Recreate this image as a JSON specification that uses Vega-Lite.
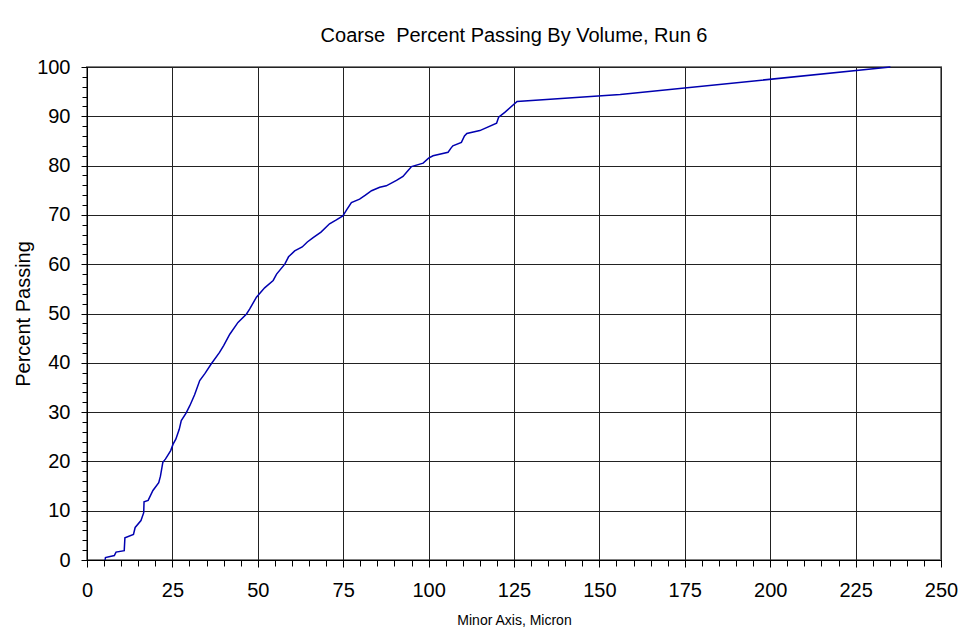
{
  "$schema": "https://vega.github.io/schema/vega-lite/v6.json",
  "width": 854,
  "height": 493,
  "autosize": {"type": "none"},
  "padding": {"left": 87, "top": 67, "right": 22, "bottom": 79},
  "background": "white",
  "title": {"text": "Coarse\u00a0 Percent Passing By Volume, Run 6", "font": "Liberation Sans", "fontSize": 20, "fontWeight": "normal", "color": "black", "offset": 11},
  "config": {
    "view": {"stroke": "#808080", "strokeWidth": 2},
    "axis": {"labelFont": "Liberation Sans", "titleFont": "Liberation Sans", "labelColor": "black", "titleColor": "black", "domainColor": "black", "tickColor": "black", "gridColor": "#222222", "gridOpacity": 1, "titleFontWeight": "normal"}
  },
  "data": {"values": [
    {"micron": 5.3, "pct": 0},
    {"micron": 5.4, "pct": 0.5},
    {"micron": 8.0, "pct": 0.9},
    {"micron": 8.5, "pct": 1.6},
    {"micron": 10.9, "pct": 1.9},
    {"micron": 11.1, "pct": 4.5},
    {"micron": 13.6, "pct": 5.2},
    {"micron": 14.1, "pct": 6.6},
    {"micron": 15.8, "pct": 8.0},
    {"micron": 16.6, "pct": 9.6},
    {"micron": 16.7, "pct": 11.8},
    {"micron": 17.9, "pct": 12.1},
    {"micron": 19.3, "pct": 14.1},
    {"micron": 21.0, "pct": 15.7},
    {"micron": 21.5, "pct": 17.0},
    {"micron": 22.2, "pct": 19.8},
    {"micron": 23.0, "pct": 20.5},
    {"micron": 24.5, "pct": 22.2},
    {"micron": 25.2, "pct": 23.5},
    {"micron": 26.0, "pct": 24.5},
    {"micron": 27.0, "pct": 26.5},
    {"micron": 27.6, "pct": 28.3},
    {"micron": 29.0, "pct": 29.8},
    {"micron": 30.1, "pct": 31.3},
    {"micron": 31.5, "pct": 33.5},
    {"micron": 33.0, "pct": 36.4},
    {"micron": 34.5, "pct": 37.8},
    {"micron": 36.4, "pct": 39.8},
    {"micron": 38.8, "pct": 42.1},
    {"micron": 40.0, "pct": 43.5},
    {"micron": 41.8, "pct": 45.8},
    {"micron": 44.2, "pct": 48.2},
    {"micron": 46.7, "pct": 49.9},
    {"micron": 47.6, "pct": 50.9},
    {"micron": 49.6, "pct": 53.3},
    {"micron": 52.0, "pct": 55.2},
    {"micron": 54.5, "pct": 56.7},
    {"micron": 55.5, "pct": 58.0},
    {"micron": 57.9, "pct": 60.0},
    {"micron": 59.0, "pct": 61.5},
    {"micron": 60.8, "pct": 62.7},
    {"micron": 63.0, "pct": 63.5},
    {"micron": 64.5, "pct": 64.5},
    {"micron": 66.2, "pct": 65.4},
    {"micron": 68.5, "pct": 66.5},
    {"micron": 71.0, "pct": 68.2},
    {"micron": 73.0, "pct": 69.0},
    {"micron": 74.9, "pct": 69.8},
    {"micron": 76.0, "pct": 71.0},
    {"micron": 77.4, "pct": 72.5},
    {"micron": 79.8, "pct": 73.2},
    {"micron": 81.5, "pct": 74.0},
    {"micron": 83.3, "pct": 74.9},
    {"micron": 85.7, "pct": 75.6},
    {"micron": 87.6, "pct": 75.9},
    {"micron": 90.6, "pct": 77.0},
    {"micron": 92.5, "pct": 77.8},
    {"micron": 94.0, "pct": 79.0},
    {"micron": 95.0, "pct": 79.8},
    {"micron": 98.4, "pct": 80.5},
    {"micron": 100.0, "pct": 81.5},
    {"micron": 101.3, "pct": 82.0},
    {"micron": 105.7, "pct": 82.7},
    {"micron": 106.5, "pct": 83.5},
    {"micron": 107.1, "pct": 84.0},
    {"micron": 109.6, "pct": 84.7},
    {"micron": 110.5, "pct": 86.0},
    {"micron": 111.2, "pct": 86.5},
    {"micron": 115.0, "pct": 87.1},
    {"micron": 119.9, "pct": 88.6},
    {"micron": 120.5, "pct": 89.8},
    {"micron": 122.3, "pct": 90.8},
    {"micron": 125.9, "pct": 93.0},
    {"micron": 156.1, "pct": 94.4},
    {"micron": 235.2, "pct": 100}
  ]},
  "layer": [
    {
      "mark": {"type": "line", "color": "#0000b0", "strokeWidth": 1.5},
      "encoding": {
        "x": {"field": "micron", "type": "quantitative", "scale": {"domain": [0, 250], "nice": false},
              "axis": {"orient": "bottom", "values": [0, 25, 50, 75, 100, 125, 150, 175, 200, 225, 250], "grid": true, "tickSize": 7, "labelPadding": 13, "labelFontSize": 20, "labelFlush": false, "title": "Minor Axis, Micron", "titleFontSize": 14, "titlePadding": 13}},
        "y": {"field": "pct", "type": "quantitative", "scale": {"domain": [0, 100], "nice": false},
              "axis": {"orient": "left", "values": [0, 10, 20, 30, 40, 50, 60, 70, 80, 90, 100], "grid": true, "tickSize": 6, "labelPadding": 11, "labelFontSize": 20, "labelFlush": false, "title": "Percent Passing", "titleFontSize": 20, "titlePadding": 3}}
      }
    },
    {
      "mark": {"type": "line", "opacity": 0},
      "encoding": {
        "x": {"field": "micron", "type": "quantitative", "scale": {"domain": [0, 250], "nice": false},
              "axis": {"orient": "bottom", "values": [0, 5, 10, 15, 20, 25, 30, 35, 40, 45, 50, 55, 60, 65, 70, 75, 80, 85, 90, 95, 100, 105, 110, 115, 120, 125, 130, 135, 140, 145, 150, 155, 160, 165, 170, 175, 180, 185, 190, 195, 200, 205, 210, 215, 220, 225, 230, 235, 240, 245, 250], "grid": false, "domain": false, "labels": false, "tickSize": 6, "title": null}},
        "y": {"field": "pct", "type": "quantitative", "scale": {"domain": [0, 100], "nice": false},
              "axis": {"orient": "left", "values": [0, 2, 4, 6, 8, 10, 12, 14, 16, 18, 20, 22, 24, 26, 28, 30, 32, 34, 36, 38, 40, 42, 44, 46, 48, 50, 52, 54, 56, 58, 60, 62, 64, 66, 68, 70, 72, 74, 76, 78, 80, 82, 84, 86, 88, 90, 92, 94, 96, 98, 100], "grid": false, "domain": false, "labels": false, "tickSize": 5, "title": null}}
      }
    }
  ],
  "resolve": {"axis": {"x": "independent", "y": "independent"}}
}
